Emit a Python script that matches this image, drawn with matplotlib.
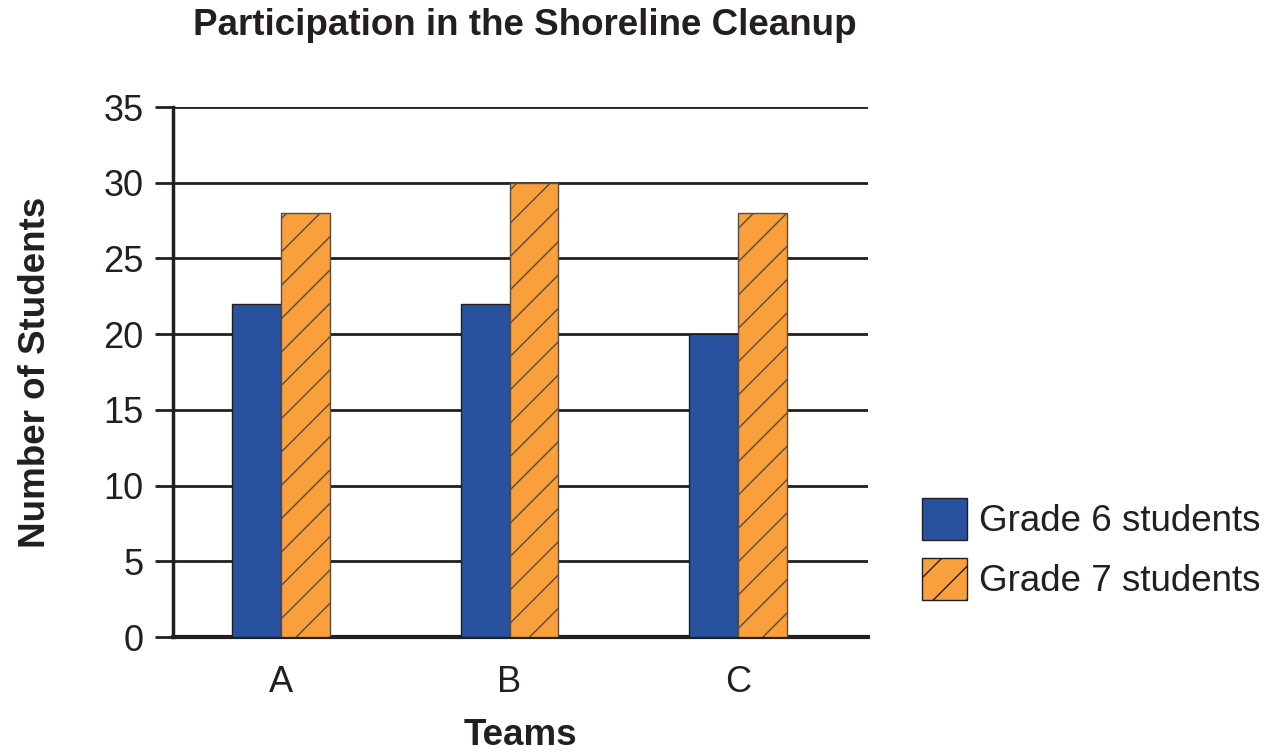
import numpy as np
import matplotlib; matplotlib.use("Agg")
import matplotlib.pyplot as plt
from matplotlib.patches import Patch

teams = ["A", "B", "C"]
grade6 = [22, 22, 20]
grade7 = [28, 30, 28]
series_labels = ["Grade 6 students", "Grade 7 students"]
yticks = [0, 5, 10, 15, 20, 25, 30, 35]

INK = "#231f20"; BLUE = "#2852a0"; ORANGE = "#f9a03c"
plt.rcParams.update({"font.family": ["Liberation Sans", "DejaVu Sans"], "hatch.color": "#3a3030",
                     "hatch.linewidth": 1.0, "text.color": INK, "xtick.labelcolor": INK,
                     "ytick.labelcolor": INK, "axes.labelcolor": INK})

fig = plt.figure(figsize=(12.73, 7.52), dpi=100)
ax = fig.add_axes([0.1359, 0.1529, 0.546, 0.7048])
x = np.arange(len(teams)); w = 0.214
ax.bar(x - w/2, grade6, width=w, color=BLUE, edgecolor=INK, linewidth=1.0, zorder=3)
ax.bar(x + w/2, grade7, width=w, color=ORANGE, edgecolor="#5a4a40", linewidth=1.0, hatch="/", zorder=3)

ax.set_xlim(-0.473, 2.569); ax.set_ylim(0, 35)
ax.set_yticks(yticks)
ax.yaxis.grid(True, color=INK, lw=2, zorder=0)
ax.set_axisbelow(True)
for s in ("top", "right"): ax.spines[s].set_visible(False)
ax.spines["left"].set_linewidth(2.5); ax.spines["left"].set_color(INK)
ax.spines["bottom"].set_linewidth(3); ax.spines["bottom"].set_color(INK)
ax.tick_params(axis="y", length=13, width=2, color=INK, labelsize=26, pad=8)
ax.tick_params(axis="x", length=0, labelsize=26, pad=20)
ax.set_xticks(x); ax.set_xticklabels(teams)
ax.set_xlabel("Teams", fontsize=26.5, fontweight="bold", labelpad=13)
ax.set_ylabel("Number of Students", fontsize=26.5, fontweight="bold", labelpad=36)
fig.text(0.4125, 0.99, "Participation in the Shoreline Cleanup", ha="center", va="top",
         fontsize=26.5, fontweight="bold")

handles = [Patch(facecolor=BLUE, edgecolor=INK, lw=1), Patch(facecolor=ORANGE, edgecolor=INK, lw=1, hatch="/")]
fig.legend(handles, series_labels, loc="center left", bbox_to_anchor=(0.724, 0.270), frameon=False,
           fontsize=26.5, handlelength=1.22, handleheight=1.37, handletextpad=0.35, labelspacing=0.5,
           borderaxespad=0, borderpad=0)
fig.savefig("out.png", facecolor="white")
